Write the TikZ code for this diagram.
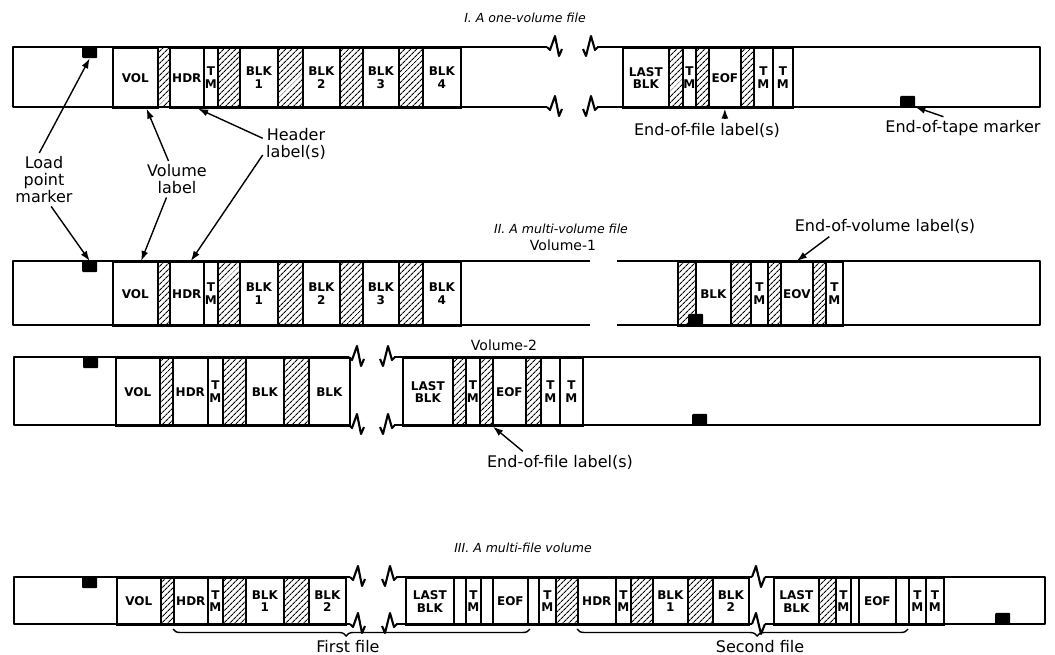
\documentclass[tikz,border=0pt]{standalone}
\usepackage{fontspec}
\setmainfont{DejaVu Sans}
\usetikzlibrary{positioning, arrows.meta, patterns.meta, decorations.pathreplacing}

\tikzset{
  tapeline/.style={line width=2.1pt, line join=round},
  cellbox/.style={draw, line width=1.7pt, inner sep=0pt, align=center,
    font=\bfseries\fontsize{12}{12.5}\selectfont},
  cellhatch/.style={cellbox, pattern={Lines[angle=45, distance=4pt, line width=1.1pt]}},
  tapemark/.style={fill=black, inner sep=0pt, minimum width=15pt, minimum height=11pt,
    rounded corners=1pt},
  note/.style={align=center, font=\fontsize{16}{17}\selectfont},
  volname/.style={font=\fontsize{14}{16}\selectfont},
  heading/.style={font=\itshape\fontsize{12.5}{14}\selectfont},
  callout/.style={line width=1.4pt, -{Latex[length=10pt, width=7pt]}},
  brk end/.pic={\draw[tapeline] (0,0) -- (3,3) -- (8,-11) -- (12,9) -- (15,2);},
  brk start/.pic={\draw[tapeline] (0,2) -- (3,9) -- (8,-11) -- (12,3) -- (15,0);},
  brk mid/.pic={\draw[tapeline] (0,0) -- (4,-11) -- (9,10) -- (13,0);},
}

% row of tape cells: prefix, top, height, list x1/x2/style/text
\newcommand\tapecells[4]{%
  \foreach \xa/\xb/\st/\txt [count=\i] in {#4}
    \node[\st, minimum width=\xb pt-\xa pt, minimum height=#3pt, anchor=north west]
      (#1-\i) at (\xa,#2) {\txt};
}

\begin{document}
\begin{tikzpicture}[x=1pt, y=-1pt]
  \useasboundingbox (0,0) rectangle (1055,655);

  % ---- I. one-volume file
  \node[heading] (ttl1) at (525,18) {I. A one-volume file};
  \draw[tapeline] (547,47) -- (13,47) -- (13,107) -- (547,107);
  \draw[tapeline] (597,47) -- (1040,47) -- (1040,107) -- (597,107);
  \pic at (547,47) {brk end};   \pic at (547,107) {brk end};
  \pic at (583,47) {brk start}; \pic at (583,107) {brk start};
  \tapecells{ta}{47}{60}{112/157/cellbox/VOL, 157/169/cellhatch/{}, 169/203/cellbox/HDR,
    203/217/cellbox/T\\M, 217/239/cellhatch/{}, 239/277/cellbox/BLK\\1,
    277/302/cellhatch/{}, 302/339/cellbox/BLK\\2, 339/362/cellhatch/{},
    362/398/cellbox/BLK\\3, 398/422/cellhatch/{}, 422/460/cellbox/BLK\\4}
  \tapecells{tb}{47}{60}{622/668/cellbox/LAST\\BLK, 668/682/cellhatch/{},
    682/695/cellbox/T\\M, 695/708/cellhatch/{}, 708/740/cellbox/EOF,
    740/753/cellhatch/{}, 753/772/cellbox/T\\M, 772/792/cellbox/T\\M}
  \node[tapemark, anchor=north west] (lp1) at (82,47) {};
  \node[tapemark, anchor=south west] (et1) at (900,107) {};

  \node[note, anchor=north] (lpm) at (44,153) {Load\\point\\marker};
  \node[note, anchor=north] (voll) at (177,161) {Volume\\label};
  \node[note, anchor=north] (hdrl) at (296,125) {Header\\label(s)};
  \node[note] (eof1) at (707,130) {End-of-file label(s)};
  \node[note] (eotm) at (963,128) {End-of-tape marker};

  \draw[callout] (lpm.100) -- (lp1.south);
  \draw[callout] (voll.115) -- (ta-1.-70);
  \draw[callout] (hdrl.170) -- (ta-3.-70);
  \draw[callout] (eof1.north -| tb-5.south) -- (tb-5.south);
  \draw[callout] (eotm.150) -- (et1.south east);

  % ---- II. multi-volume file
  \node[heading] (ttl2) at (561,229) {II. A multi-volume file};
  \node[volname] (vol1) at (563,245) {Volume-1};
  \draw[tapeline] (590,261) -- (13,261) -- (13,325) -- (590,325);
  \draw[tapeline] (617,261) -- (1040,261) -- (1040,325) -- (617,325);
  \tapecells{tc}{261}{64}{112/157/cellbox/VOL, 157/169/cellhatch/{}, 169/203/cellbox/HDR,
    203/217/cellbox/T\\M, 217/239/cellhatch/{}, 239/277/cellbox/BLK\\1,
    277/302/cellhatch/{}, 302/339/cellbox/BLK\\2, 339/362/cellhatch/{},
    362/398/cellbox/BLK\\3, 398/422/cellhatch/{}, 422/460/cellbox/BLK\\4}
  \tapecells{td}{261}{64}{677/695/cellhatch/{}, 695/730/cellbox/BLK,
    730/750/cellhatch/{}, 750/767/cellbox/T\\M, 767/780/cellhatch/{},
    780/812/cellbox/EOV, 812/825/cellhatch/{}, 825/842/cellbox/T\\M}
  \node[tapemark, anchor=north west] (lp2) at (82,261) {};
  \node[tapemark, anchor=south west] (et2) at (688,325) {};

  \node[note] (eovl) at (885,226) {End-of-volume label(s)};
  \draw[callout] (lpm.-75) -- (lp2.north);
  \draw[callout] (voll.-120) -- (tc-1.80);
  \draw[callout] (hdrl.198) -- (tc-3.83);
  \draw[callout] ([xshift=38pt]eovl.south west) -- (td-6.north);

  \node[volname] (vol2) at (504,345) {Volume-2};
  \draw[tapeline] (349,357) -- (14,357) -- (14,425) -- (349,425);
  \draw[tapeline] (394,357) -- (1040,357) -- (1040,425) -- (394,425);
  \pic at (349,357) {brk end};   \pic at (349,425) {brk end};
  \pic at (380,357) {brk start}; \pic at (380,425) {brk start};
  \tapecells{te}{357}{68}{115/159/cellbox/VOL, 159/172/cellhatch/{}, 172/207/cellbox/HDR,
    207/222/cellbox/T\\M, 222/245/cellhatch/{}, 245/283/cellbox/BLK,
    283/308/cellhatch/{}, 308/349/cellbox/BLK}
  \tapecells{tf}{357}{68}{402/452/cellbox/LAST\\BLK, 452/465/cellhatch/{},
    465/479/cellbox/T\\M, 479/492/cellhatch/{}, 492/525/cellbox/EOF,
    525/540/cellhatch/{}, 540/559/cellbox/T\\M, 559/582/cellbox/T\\M}
  \node[tapemark, anchor=north west] (lp3) at (83,357) {};
  \node[tapemark, anchor=south west] (et3) at (692,425) {};

  \node[note] (eof2) at (560,462) {End-of-file label(s)};
  \draw[callout] (eof2.164) -- (tf-5.-115);

  % ---- III. multi-file volume
  \node[heading] (ttl3) at (523,548) {III. A multi-file volume};
  \draw[tapeline] (350,577) -- (14,577) -- (14,624) -- (350,624);
  \draw[tapeline] (396,577) -- (752,577);
  \draw[tapeline] (396,624) -- (752,624);
  \draw[tapeline] (765,577) -- (1045,577) -- (1045,624) -- (765,624);
  \pic at (350,577) {brk end};   \pic at (350,624) {brk end};
  \pic at (382,577) {brk start}; \pic at (382,624) {brk start};
  \pic at (752,577) {brk mid};   \pic at (752,624) {brk mid};
  \tapecells{tg}{577}{47}{116/160/cellbox/VOL, 160/173/cellhatch/{}, 173/207/cellbox/HDR,
    207/222/cellbox/T\\M, 222/245/cellhatch/{}, 245/283/cellbox/BLK\\1,
    283/308/cellhatch/{}, 308/345/cellbox/BLK\\2}
  \tapecells{th}{577}{47}{405/453/cellbox/LAST\\BLK, 453/465/cellbox/{},
    465/480/cellbox/T\\M, 480/492/cellbox/{}, 492/527/cellbox/EOF,
    527/538/cellbox/{}, 538/555/cellbox/T\\M, 555/577/cellhatch/{},
    577/615/cellbox/HDR, 615/630/cellbox/T\\M, 630/652/cellhatch/{},
    652/687/cellbox/BLK\\1, 687/712/cellhatch/{}, 712/748/cellbox/BLK\\2}
  \tapecells{ti}{577}{47}{773/818/cellbox/LAST\\BLK, 818/835/cellhatch/{},
    835/850/cellbox/T\\M, 850/858/cellbox/{}, 858/895/cellbox/EOF,
    895/908/cellbox/{}, 908/925/cellbox/T\\M, 925/943/cellbox/T\\M}
  \node[tapemark, anchor=north west] (lp4) at (82,577) {};
  \node[tapemark, anchor=south west] (et4) at (995,624) {};

  \coordinate (ff-a) at (173,629);
  \coordinate (ff-b) at (530,629);
  \coordinate (sf-a) at (577,629);
  \coordinate (sf-b) at (908,629);
  \draw[line width=1.4pt, decorate,
    decoration={brace, mirror, amplitude=7pt, aspect=0.485}] (ff-a) -- (ff-b);
  \draw[line width=1.4pt, decorate,
    decoration={brace, mirror, amplitude=7pt, aspect=0.544}] (sf-a) -- (sf-b);
  \node[note] (ffile) at (348,647) {First file};
  \node[note] (sfile) at (760,647) {Second file};
\end{tikzpicture}
\end{document}
